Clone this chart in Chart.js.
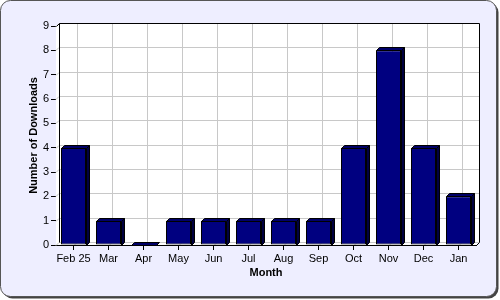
<!DOCTYPE html>
<html><head><meta charset="utf-8">
<script src="https://cdn.jsdelivr.net/npm/chart.js@4"></script>
<style>html,body{margin:0;padding:0;background:#fff}#wrap{width:500px;height:300px}</style>
</head><body><div id="wrap"><canvas id="c" width="500" height="300"></canvas></div>
<script>
const months = ['Feb 25','Mar','Apr','May','Jun','Jul','Aug','Sep','Oct','Nov','Dec','Jan'];
const downloads = [4,1,0,1,1,1,1,1,4,8,4,2];
const yTicks = [0,1,2,3,4,5,6,7,8,9];
const xTitle = 'Month';
const yTitle = 'Number of Downloads';

const DX = 3, DY = 3;
const FONT = '"Liberation Sans", Arial, sans-serif';

function rr(ctx, x, y, w, h, r) {
  ctx.beginPath();
  ctx.moveTo(x + r, y);
  ctx.lineTo(x + w - r, y);
  ctx.arcTo(x + w, y, x + w, y + r, r);
  ctx.lineTo(x + w, y + h - r);
  ctx.arcTo(x + w, y + h, x + w - r, y + h, r);
  ctx.lineTo(x + r, y + h);
  ctx.arcTo(x, y + h, x, y + h - r, r);
  ctx.lineTo(x, y + r);
  ctx.arcTo(x, y, x + r, y, r);
  ctx.closePath();
}

const framePlugin = {
  id: 'frame',
  beforeDraw(chart) {
    const ctx = chart.ctx;
    ctx.save();
    ctx.fillStyle = '#ffffff';
    ctx.fillRect(0, 0, 500, 300);
    rr(ctx, 2.5, 2.5, 496, 296, 10);
    ctx.fillStyle = '#444444';
    ctx.fill();
    rr(ctx, 0.5, 0.5, 496, 296, 10);
    ctx.fillStyle = '#EEEEFF';
    ctx.fill();
    ctx.strokeStyle = '#555555';
    ctx.lineWidth = 1;
    ctx.stroke();
    ctx.restore();
  }
};

const wallPlugin = {
  id: 'wall',
  beforeDatasetsDraw(chart) {
    const ctx = chart.ctx;
    const {left, right, top, bottom} = chart.chartArea;
    const xs = chart.scales.x, ys = chart.scales.y;
    ctx.save();
    ctx.beginPath();
    ctx.moveTo(left, top);
    ctx.lineTo(left + DX, top - DY);
    ctx.lineTo(right + DX, top - DY);
    ctx.lineTo(right + DX, bottom - DY);
    ctx.lineTo(right, bottom);
    ctx.lineTo(left, bottom);
    ctx.closePath();
    ctx.fillStyle = '#ffffff';
    ctx.fill();
    ctx.strokeStyle = '#C8C8C8';
    ctx.lineWidth = 1;
    ctx.beginPath();
    yTicks.forEach(v => {
      const y = Math.round(ys.getPixelForValue(v)) - DY + 0.5;
      ctx.moveTo(left + DX, y);
      ctx.lineTo(right + DX, y);
      ctx.moveTo(left, y + DY);
      ctx.lineTo(left + DX, y);
    });
    months.forEach((m, i) => {
      const x = Math.round(xs.getPixelForValue(i)) + DX + 0.5;
      ctx.moveTo(x, top - DY);
      ctx.lineTo(x, bottom - DY);
      ctx.lineTo(x - DX, bottom);
    });
    ctx.stroke();
    ctx.strokeStyle = '#000000';
    ctx.beginPath();
    const L = left + 0.5, R = right + 0.5, T = top + 0.5, B = bottom + 0.5;
    ctx.moveTo(L, T);
    ctx.lineTo(L + DX, T - DY);
    ctx.lineTo(R + DX, T - DY);
    ctx.lineTo(R + DX, B - DY);
    ctx.lineTo(R, B);
    ctx.moveTo(L + DX, T - DY);
    ctx.lineTo(L + DX, B - DY);
    ctx.stroke();
    ctx.restore();
  },
  afterDatasetsDraw(chart) {
    const ctx = chart.ctx;
    const meta = chart.getDatasetMeta(0);
    ctx.save();
    ctx.strokeStyle = '#000000';
    ctx.lineWidth = 1;
    meta.data.forEach(bar => {
      const p = bar.getProps(['x', 'y', 'base', 'width'], true);
      const l = Math.round(p.x - p.width / 2) + 0.5;
      const r = Math.round(p.x + p.width / 2) + 0.5;
      const y = Math.round(p.y) + 0.5;
      const b = Math.round(p.base) + 0.5;
      if (b > y) {
        ctx.beginPath();
        ctx.moveTo(r, y);
        ctx.lineTo(r + DX, y - DY);
        ctx.lineTo(r + DX, b - DY);
        ctx.lineTo(r, b);
        ctx.closePath();
        ctx.fillStyle = '#000040';
        ctx.fill();
        ctx.stroke();
      }
      ctx.beginPath();
      ctx.moveTo(l, y);
      ctx.lineTo(l + DX, y - DY);
      ctx.lineTo(r + DX, y - DY);
      ctx.lineTo(r, y);
      ctx.closePath();
      ctx.fillStyle = '#000068';
      ctx.fill();
      ctx.stroke();
    });
    ctx.restore();
  }
};

new Chart(document.getElementById('c'), {
  type: 'bar',
  data: {
    labels: months,
    datasets: [{
      data: downloads,
      backgroundColor: '#000080',
      borderColor: '#000000',
      borderWidth: 1,
      borderSkipped: false,
      barPercentage: 25 / 35,
      categoryPercentage: 1
    }]
  },
  options: {
    responsive: false,
    devicePixelRatio: 1,
    animation: false,
    events: [],
    layout: { padding: { top: 26, right: 24, left: 0, bottom: 0 } },
    plugins: { legend: { display: false }, tooltip: { enabled: false } },
    scales: {
      x: {
        offset: true,
        grid: { drawOnChartArea: false, offset: false, tickLength: 5, color: '#000000' },
        border: { display: true, color: '#000000' },
        ticks: { color: '#000000', font: { family: FONT, size: 11 }, padding: 2, maxRotation: 0, autoSkip: false },
        title: { display: true, text: xTitle, color: '#000000', font: { family: FONT, size: 11, weight: 'bold' }, padding: { top: 0, bottom: 20 } },
        afterFit(s) { s.height = 55; }
      },
      y: {
        min: 0, max: 9,
        afterBuildTicks(s) { s.ticks = yTicks.map(v => ({ value: v })); },
        grid: { drawOnChartArea: false, tickLength: 5, color: '#000000' },
        border: { display: true, color: '#000000' },
        ticks: { color: '#000000', font: { family: FONT, size: 11 }, padding: 2 },
        title: { display: true, text: yTitle, color: '#000000', font: { family: FONT, size: 11, weight: 'bold' }, padding: { top: 27, bottom: 0 } },
        afterFit(s) { s.width = 56; }
      }
    }
  },
  plugins: [framePlugin, wallPlugin]
});
</script>
</body></html>
